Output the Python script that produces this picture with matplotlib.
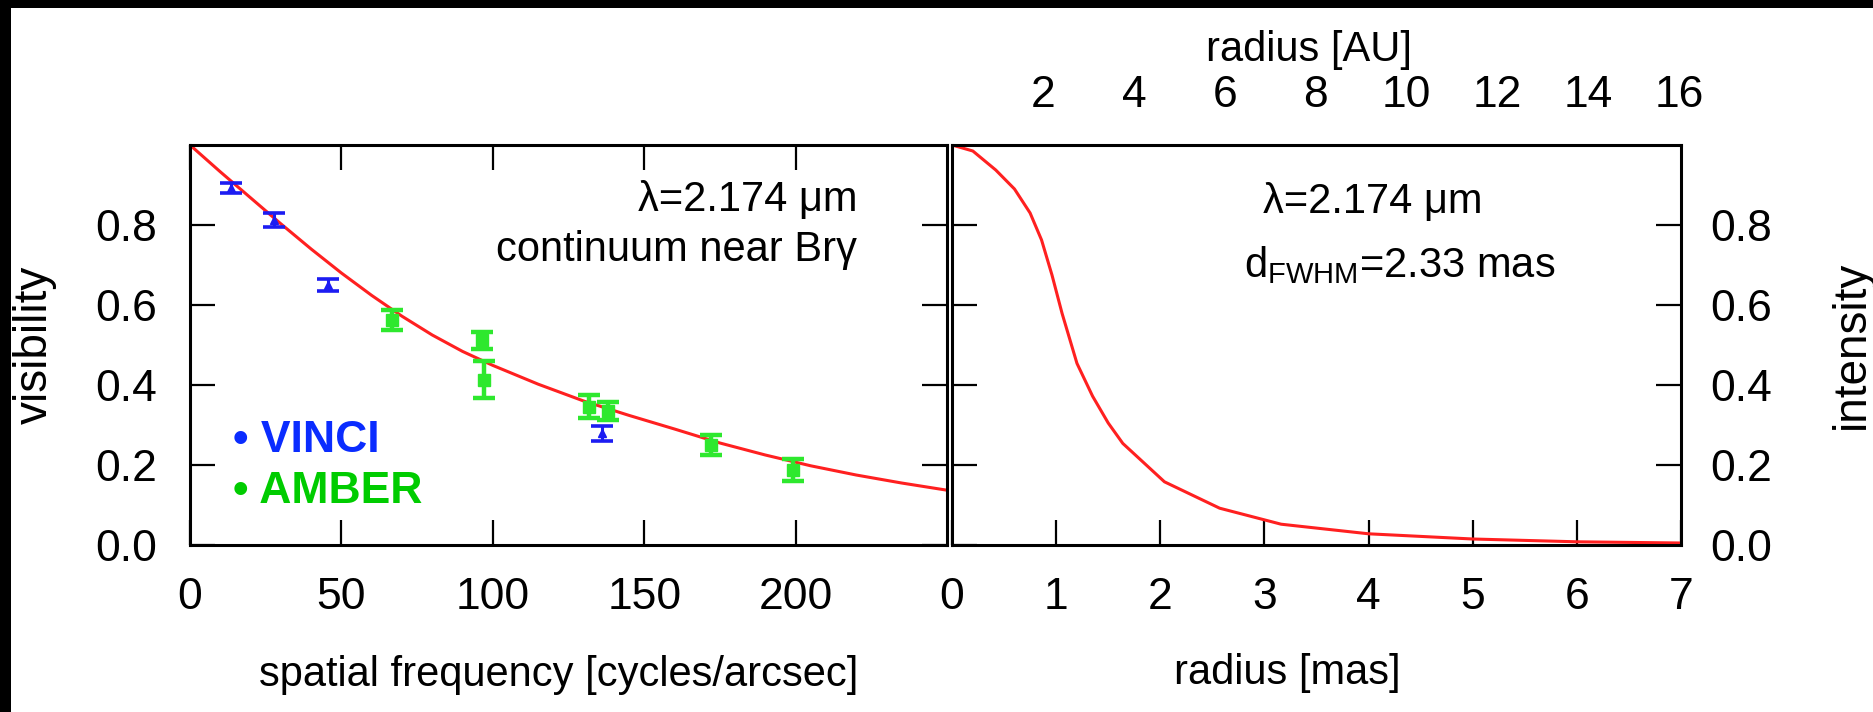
import matplotlib
matplotlib.use("Agg")
import matplotlib.pyplot as plt
from matplotlib.patches import Rectangle
from matplotlib import font_manager

plt.rcParams['font.family'] = ['Liberation Sans', 'DejaVu Sans']
plt.rcParams['mathtext.fontset'] = 'custom'
plt.rcParams['mathtext.rm'] = 'Liberation Sans'

# narrow face for the axis titles, if it is there
installed = {f.name for f in font_manager.fontManager.ttflist}
label_font = 'Liberation Sans Narrow' if 'Liberation Sans Narrow' in installed else 'Liberation Sans'

# VINCI visibilities (spatial frequency in cycles/arcsec)
vinci_freq = [13.4, 27.7, 45.7, 135.9]
vinci_vis = [0.892, 0.812, 0.650, 0.279]
vinci_err = [0.013, 0.017, 0.015, 0.018]

# AMBER visibilities
amber_freq = [66.8, 96.3, 97.2, 131.7, 138.2, 172.2, 199.0]
amber_vis = [0.563, 0.512, 0.413, 0.346, 0.335, 0.250, 0.188]
amber_err = [0.025, 0.021, 0.046, 0.029, 0.022, 0.024, 0.027]

# model visibility curve
model_freq = [0, 10, 20, 30, 40, 50, 60, 70, 80, 90, 100, 115, 130, 145, 160, 175, 190, 205, 220, 235, 250]
model_vis = [1.0, 0.933, 0.868, 0.803, 0.740, 0.680, 0.624, 0.572, 0.525, 0.484, 0.449,
             0.402, 0.360, 0.324, 0.290, 0.255, 0.225, 0.198, 0.175, 0.155, 0.137]

# model intensity profile (radius in mas)
prof_r = [0, 0.2, 0.42, 0.6, 0.75, 0.86, 0.96, 1.057, 1.2, 1.35, 1.5, 1.64, 2.04, 2.57, 3.16, 4.0, 5.0, 6.0, 7.0]
prof_i = [1.0, 0.985, 0.9375, 0.89, 0.83, 0.7625, 0.675, 0.579, 0.454, 0.372, 0.305, 0.254,
          0.158, 0.092, 0.052, 0.028, 0.015, 0.008, 0.005]

AU_PER_MAS = 2.29
freq_ticks = [0, 50, 100, 150, 200]
r_ticks = [0, 1, 2, 3, 4, 5, 6, 7]
au_ticks = [2, 4, 6, 8, 10, 12, 14, 16]
y_ticks = [0.0, 0.2, 0.4, 0.6, 0.8]

W, H = 1873, 712
fig = plt.figure(figsize=(W / 100, H / 100), dpi=100)

def px_axes(x0, x1, y0, y1):
    return fig.add_axes([x0 / W, 1 - y1 / H, (x1 - x0) / W, (y1 - y0) / H])

ax1 = px_axes(190, 947, 145, 545)
ax2 = px_axes(952, 1681, 145, 545)

red = '#ff2020'
tick_fs = 32

for ax in (ax1, ax2):
    for sp in ax.spines.values():
        sp.set_linewidth(2.2)
    ax.set_ylim(0, 1.0)
    ax.set_yticks(y_ticks)
    ax.yaxis.set_major_formatter(matplotlib.ticker.FormatStrFormatter('%.1f'))
    ax.tick_params(direction='in', length=18, width=1.6, labelsize=tick_fs)

# left panel: visibilities
ax1.plot(model_freq, model_vis, color=red, lw=2.2, zorder=2)
ax1.errorbar(vinci_freq, vinci_vis, yerr=vinci_err, fmt='^', color='#1c1cf2', ms=6,
             capsize=8, elinewidth=2.2, capthick=2.6, zorder=3)
ax1.errorbar(amber_freq, amber_vis, yerr=amber_err, fmt='s', color='#2ee82e', ms=8,
             capsize=8, elinewidth=3.2, capthick=3.2, zorder=3)
ax1.set_xlim(0, 250)
ax1.set_xticks(freq_ticks)
ax1.tick_params(axis='x', top=True, pad=23)
ax1.tick_params(axis='y', left=True, right=True, labelleft=True, pad=24)
ax1.set_xlabel('spatial frequency [cycles/arcsec]', fontsize=30, family=label_font)
ax1.xaxis.set_label_coords(0.487, -0.325)
ax1.xaxis.label.set_va('center')
ax1.set_ylabel('visibility', fontsize=33)
ax1.yaxis.set_label_coords(-0.205, 0.5)
ax1.yaxis.label.set_va('center')

ax1.text(220.3, 0.8625, 'λ=2.174 μm', fontsize=30, ha='right', va='center')
ax1.text(220.3, 0.7375, 'continuum near Brγ', fontsize=30, ha='right', va='center')
ax1.text(14.2, 0.262, '• VINCI', fontsize=32, fontweight='bold', color='#0a2cff',
         ha='left', va='center')
ax1.text(14.2, 0.134, '• AMBER', fontsize=32, fontweight='bold', color='#00cc00',
         ha='left', va='center')

# right panel: intensity profile
ax2.plot(prof_r, prof_i, color=red, lw=2.2)
ax2.set_xlim(0, 7)
ax2.set_xticks(r_ticks)
ax2.tick_params(axis='x', top=False, pad=23)
ax2.tick_params(axis='y', left=True, right=True, labelleft=False, labelright=True, pad=21)
ax2.set_xlabel('radius [mas]', fontsize=30, family=label_font)
ax2.xaxis.set_label_coords(0.46, -0.32)
ax2.xaxis.label.set_va('center')
ax2.set_ylabel('intensity', fontsize=33)
ax2.yaxis.set_label_position('right')
ax2.yaxis.set_label_coords(1.235, 0.5)
ax2.yaxis.label.set_va('center')
ax2.yaxis.label.set_rotation(90)

ax2.text(2.99, 0.8575, 'λ=2.174 μm', fontsize=30, ha='left', va='center')
ax2.text(2.80, 0.70, r'd$_{\mathrm{FWHM}}$=2.33 mas', fontsize=30, ha='left', va='center')

# radius in AU along the top of the profile panel
top = ax2.secondary_xaxis('top', functions=(lambda m: m * AU_PER_MAS, lambda a: a / AU_PER_MAS))
top.set_xticks(au_ticks)
top.tick_params(length=0, labelsize=tick_fs, pad=21)
top.spines['top'].set_visible(False)
ax2.text(0.49, 1.2375, 'radius [AU]', fontsize=30, family=label_font,
         ha='center', va='center', transform=ax2.transAxes)

# black frame strips on left and top edges
fig.add_artist(Rectangle((0, 0), 11 / W, 1, transform=fig.transFigure, color='black', lw=0))
fig.add_artist(Rectangle((0, 1 - 8 / H), 1, 8 / H, transform=fig.transFigure, color='black', lw=0))

fig.savefig('out.png', dpi=100)
